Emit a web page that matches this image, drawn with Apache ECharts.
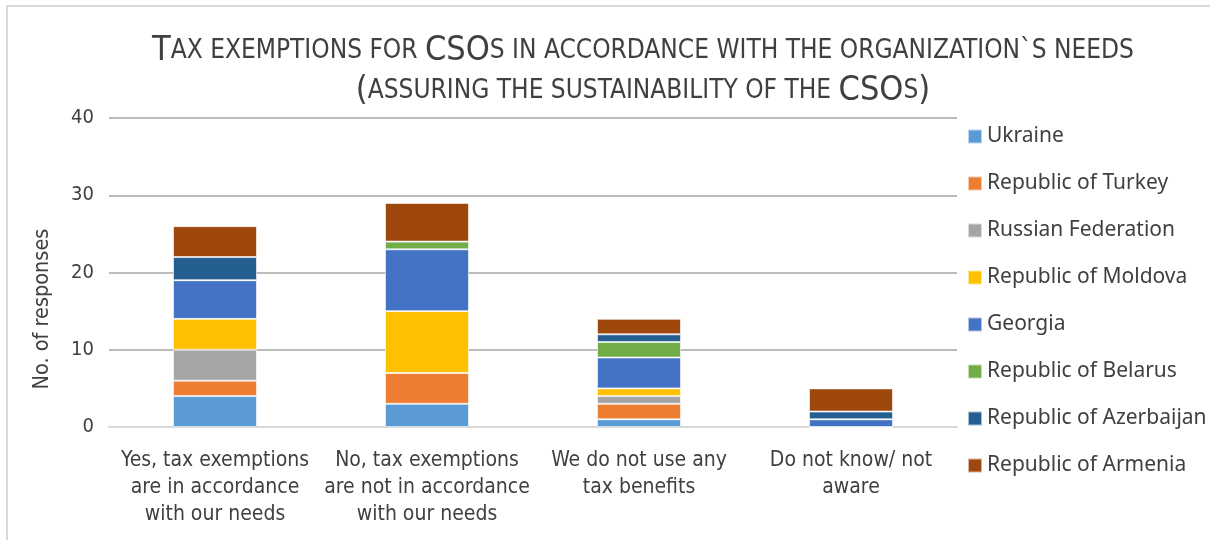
<!DOCTYPE html>
<html>
<head>
<meta charset="utf-8">
<script src="https://cdn.jsdelivr.net/npm/echarts@6/dist/echarts.min.js"></script>
<style>
  html, body { margin: 0; padding: 0; background: #fff; }
  #frame { position: absolute; left: 6px; top: 5px; width: 1210px; height: 540px; border-left: 2px solid #d9d9d9; border-top: 2px solid #d9d9d9; }
  #main { position: absolute; left: 0; top: 0; width: 1210px; height: 540px; }
</style>
</head>
<body>
<div id="frame"></div>
<div id="main"></div>
<script>
var categories = [
    'Yes, tax exemptions\nare in accordance\nwith our needs',
    'No, tax exemptions\nare not in accordance\nwith our needs',
    'We do not use any\ntax benefits',
    'Do not know/ not\naware'
];
var countries = ['Ukraine', 'Republic of Turkey', 'Russian Federation', 'Republic of Moldova',
    'Georgia', 'Republic of Belarus', 'Republic of Azerbaijan', 'Republic of Armenia'];
var colors = ['#5B9BD5', '#ED7D31', '#A5A5A5', '#FFC000', '#4472C4', '#70AD47', '#255E91', '#9E480E'];
var ukraine = [4, 3, 1, 0];
var turkey = [2, 4, 2, 0];
var russia = [4, 0, 1, 0];
var moldova = [4, 8, 1, 0];
var georgia = [5, 8, 4, 1];
var belarus = [0, 1, 2, 0];
var azerbaijan = [3, 0, 1, 1];
var armenia = [4, 5, 2, 3];
var yTicks = [0, 10, 20, 30, 40];

var values = [ukraine, turkey, russia, moldova, georgia, belarus, azerbaijan, armenia];
var font = '"Liberation Sans Narrow", "DejaVu Sans Condensed", "Noto Sans", sans-serif';
var legendFont = '"Noto Sans", "Open Sans", sans-serif';

var chart = echarts.init(document.getElementById('main'));
var series = countries.map(function (name, i) {
    return {
        name: name,
        type: 'bar',
        stack: 'total',
        barWidth: 84,
        data: values[i],
        itemStyle: { color: colors[i], borderColor: 'rgba(255,255,255,0.6)', borderWidth: 1 }
    };
});

var option = {
    animation: false,
    color: colors,
    title: {
        text: '{b|T}{s|AX EXEMPTIONS FOR }{b|CSO}{s|S IN ACCORDANCE WITH THE ORGANIZATION`S NEEDS}\n{b|(}{s|ASSURING THE SUSTAINABILITY OF THE }{b|CSO}{s|S}{b|)}',
        left: 638,
        top: 26,
        textAlign: 'center',
        textStyle: {
            fontFamily: font,
            fontWeight: 'normal',
            lineHeight: 40,
            rich: {
                b: { fontSize: 34, color: '#404040', fontFamily: font, fontWeight: 'normal', lineHeight: 40 },
                s: { fontSize: 26, color: '#404040', fontFamily: font, fontWeight: 'normal', lineHeight: 40 }
            }
        }
    },
    legend: {
        orient: 'vertical',
        left: 962,
        top: 121,
        itemWidth: 14,
        itemHeight: 14,
        itemGap: 26,
        icon: 'rect',
        data: countries,
        textStyle: { fontSize: 21, color: '#404040', fontFamily: legendFont }
    },
    grid: { left: 109, right: 253, top: 118, bottom: 113 },
    xAxis: {
        type: 'category',
        data: categories,
        axisTick: { show: false },
        axisLine: { lineStyle: { color: '#D9D9D9', width: 2 } },
        axisLabel: { fontSize: 21, color: '#404040', fontFamily: font, lineHeight: 27, margin: 20, interval: 0 }
    },
    yAxis: {
        type: 'value',
        min: yTicks[0],
        max: yTicks[yTicks.length - 1],
        interval: 10,
        axisLine: { show: false },
        axisTick: { show: false },
        axisLabel: { fontSize: 20, color: '#404040', fontFamily: font, margin: 15 },
        splitLine: { lineStyle: { color: '#A6A6A6', width: 1.5 } }
    },
    graphic: [{
        type: 'text',
        x: 42,
        y: 309,
        rotation: Math.PI / 2,
        style: {
            text: 'No. of responses',
            fontSize: 21.5,
            fill: '#404040',
            fontFamily: font,
            textAlign: 'center',
            textVerticalAlign: 'middle'
        }
    }],
    series: series
};
chart.setOption(option);
window.addEventListener('resize', function () {
    chart.resize();
});
</script>
</body>
</html>
